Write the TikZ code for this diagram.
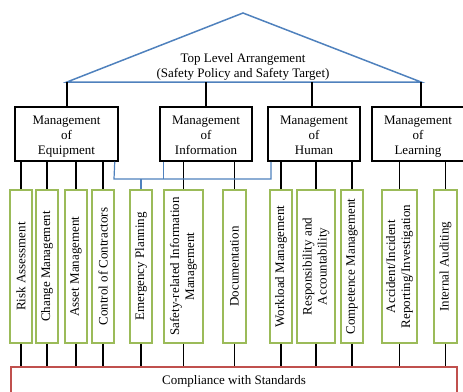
\documentclass[tikz,border=0pt]{standalone}
\usepackage{fontspec}
\setmainfont{Liberation Serif}
\definecolor{blueL}{HTML}{4F81BD}
\definecolor{greenL}{HTML}{9BBB59}
\definecolor{redL}{HTML}{C0504D}
\begin{document}
\begin{tikzpicture}[x=1pt,y=-1pt,
  every node/.style={font=\fontsize{13}{15}\selectfont, inner sep=0pt, align=center},
  mgmt/.style={draw=black, line width=1.5pt, minimum height=54pt, text height=40pt, text depth=0pt},
  subbox/.style={draw=greenL, line width=1.5pt, rotate=90, minimum width=153pt},
  conn/.style={draw=black, line width=1.3pt},
  bconn/.style={draw=blueL, line width=1.2pt}]
\useasboundingbox (0,0) rectangle (463,391);
% top triangle
\coordinate (apex) at (243,13);
\coordinate (b1) at (67,82);
\coordinate (b2) at (206,82);
\coordinate (b3) at (312,82);
\coordinate (b4) at (421,82);
\draw[blueL, line width=1.5pt, line join=miter] (b1) -- (apex) -- (b4) -- cycle;
\node (top) at (243,67) {Top Level Arrangement\\(Safety Policy and Safety Target)};
% management boxes
\node[mgmt, minimum width=103pt] (equip) at (66.5,134) {Management\\of\\Equipment};
\node[mgmt, minimum width=92pt] (info) at (206,134) {Management\\of\\Information};
\node[mgmt, minimum width=92pt] (human) at (314,134) {Management\\of\\Human};
\node[mgmt, minimum width=92pt] (learn) at (418,134) {Management\\of\\Learning};
\draw[conn] (b1) -- (b1 |- equip.north);
\draw[conn] (b2) -- (b2 |- info.north);
\draw[conn] (b3) -- (b3 |- human.north);
\draw[conn] (b4) -- (b4 |- learn.north);
% sub boxes
\node[subbox, minimum height=22pt] (risk) at (21,266.5) {Risk Assessment};
\node[subbox, minimum height=22pt] (change) at (47,266.5) {Change Management};
\node[subbox, minimum height=22pt] (asset) at (76,266.5) {Asset Management};
\node[subbox, minimum height=22pt] (contr) at (103,266.5) {Control of Contractors};
\node[subbox, minimum height=22pt] (emerg) at (141,266.5) {Emergency Planning};
\node[subbox, minimum height=39pt] (safety) at (183.5,266.5) {Safety-related Information\\Management};
\node[subbox, minimum height=23pt] (doc) at (234.5,266.5) {Documentation};
\node[subbox, minimum height=22pt] (work) at (281,266.5) {Workload Management};
\node[subbox, minimum height=38pt] (resp) at (316,266.5) {Responsibility and\\Accountability};
\node[subbox, minimum height=22pt] (comp) at (352,266.5) {Competence Management};
\node[subbox, minimum height=35pt] (acc) at (399.5,266.5) {Accident/Incident\\Reporting/Investigation};
\node[subbox, minimum height=23pt] (audit) at (445.5,266.5) {Internal Auditing};
% compliance
\node[draw=redL, line width=1.5pt, minimum width=446pt, minimum height=28pt] (std) at (234,381) {Compliance with Standards};
% connectors from management to sub boxes
\foreach \s/\m in {risk/equip, change/equip, asset/equip, contr/equip, safety/info, doc/info, work/human, resp/human, comp/human, acc/learn, audit/learn}{
  \draw[conn] (\s.center |- \m.south) -- (\s);
  \draw[conn] (\s) -- (\s.center |- std.north);
}
\draw[conn] (emerg) -- (emerg.center |- std.north);
% blue links
\coordinate (busL) at (114,179);
\coordinate (busR) at (271,179);
\draw[bconn] ([xshift=-4pt]equip.south east) -- (busL) -- (busR) -- (busR |- human.south);
\draw[bconn] ([xshift=4pt]info.south west) -- ([xshift=4pt]info.south west |- busL);
\draw[bconn] (emerg.center |- busL) -- (emerg);
\end{tikzpicture}
\end{document}
